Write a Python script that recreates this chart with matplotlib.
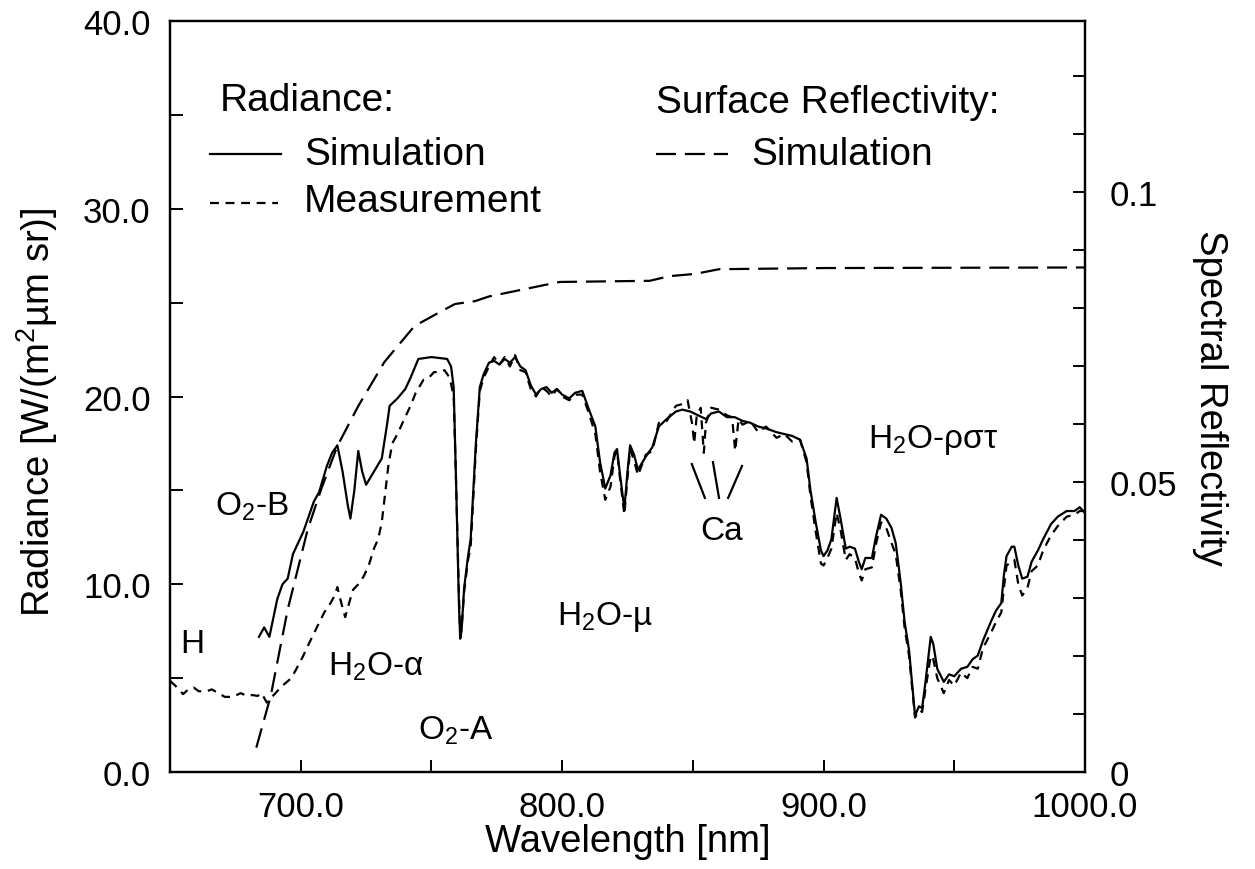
import numpy as np
import matplotlib
matplotlib.use("Agg")
import matplotlib.pyplot as plt
from matplotlib.ticker import MultipleLocator, FixedLocator

plt.rcParams['font.family'] = ['Liberation Sans', 'DejaVu Sans']
plt.rcParams['mathtext.fontset'] = 'custom'
plt.rcParams['mathtext.rm'] = 'Liberation Sans'

# simulated radiance
sim_wl = [684, 686, 688, 691, 693, 695, 697, 699, 701, 703, 705, 707, 710, 712, 714, 716,
          718, 719, 720.5, 722, 723.5, 725, 728, 731, 733, 734, 737, 740, 742, 745, 750, 756,
          757.5, 758.5, 759.5, 760.5, 761, 761.5, 762.5, 764, 765, 767, 768.5, 770, 772, 774,
          776, 778, 780, 782, 784, 786, 788, 790, 792, 794, 796, 798, 800, 802.7, 805, 807.7,
          810, 812.7, 814.5, 816.5, 818.5, 820, 821, 822, 823.8, 825, 826, 827.5, 829, 832,
          834.5, 837, 840, 843.5, 846, 849, 852, 855, 857, 860, 863, 866, 869, 872, 875, 878,
          882, 885, 888, 891, 893.5, 895, 897, 899, 900, 901.5, 903, 905, 906.5, 908.5, 910,
          912, 913.5, 914.6, 916, 918.5, 920, 922, 924, 926, 927.6, 929.5, 931, 932.7, 934,
          935, 936.5, 937.7, 939, 941, 942, 943.5, 946, 948, 950, 952.6, 955, 957, 959, 961,
          964, 966, 968, 969, 970, 972, 973, 974.5, 976, 978, 979.6, 982, 984, 987, 989.6,
          993, 996, 998, 1000]
sim_rad = [7.2, 7.7, 7.2, 9.2, 10.0, 10.3, 11.6, 12.2, 12.8, 13.6, 14.4, 14.9, 16.3, 17.0,
           17.4, 16.0, 14.2, 13.5, 15.0, 17.1, 16.0, 15.3, 16.0, 16.7, 18.5, 19.5, 19.9, 20.4,
           21.0, 22.0, 22.1, 22.0, 21.6, 20.5, 15.0, 9.0, 7.1, 7.5, 9.8, 11.5, 12.4, 17.5, 20.5,
           21.2, 21.8, 21.9, 21.7, 22.0, 21.8, 22.1, 21.6, 21.4, 20.6, 20.1, 20.4, 20.5, 20.2,
           20.4, 20.1, 19.9, 20.2, 20.3, 19.4, 18.4, 16.5, 15.1, 15.8, 17.0, 17.2, 16.0, 14.0,
           16.0, 17.4, 16.9, 16.1, 16.8, 17.3, 18.4, 18.8, 19.2, 19.3, 19.2, 19.0, 18.8, 19.1,
           19.2, 18.9, 18.9, 18.7, 18.6, 18.4, 18.3, 18.1, 18.0, 17.9, 17.7, 16.7, 15.0, 13.3,
           11.8, 11.5, 11.8, 12.4, 14.6, 13.5, 11.9, 12.0, 11.9, 11.2, 10.8, 11.4, 11.4, 12.5,
           13.7, 13.5, 13.0, 12.2, 10.1, 8.0, 6.5, 4.5, 3.0, 3.5, 3.4, 4.8, 7.2, 6.8, 5.5, 4.8,
           5.2, 5.1, 5.5, 5.6, 6.0, 6.2, 7.0, 8.0, 8.6, 9.0, 10.5, 11.5, 12.0, 12.0, 11.0, 10.3,
           10.4, 11.2, 11.8, 12.4, 13.2, 13.6, 13.9, 13.9, 14.1, 13.8]

# measured radiance
meas_wl = [650, 652, 655, 657, 659, 661, 664, 666, 669, 671, 674, 677, 679.5, 681.5, 683.5,
           685, 687, 689, 691, 693, 696, 698, 701, 703, 706.5, 709, 711, 713, 714, 715.5, 717,
           718.5, 720, 722, 724, 726, 728, 729.6, 731, 732, 733.5, 735, 737, 739.6, 742, 744,
           747, 749, 751, 753, 755, 757, 758.5, 759.5, 760.5, 761, 761.5, 762.5, 764, 765, 767,
           768.5, 770, 772, 774, 776, 778, 780, 782, 784, 786, 788, 790, 792, 794, 796, 798,
           800, 802.7, 805, 807.7, 810, 812.7, 814.5, 816.5, 818.5, 820, 821, 822, 823.8, 825,
           826, 827.5, 829, 832, 834.5, 837, 840, 843.5, 846, 848, 849.8, 850.5, 851.5, 853,
           854.2, 855, 857, 860, 863, 865, 866.2, 867.5, 869, 872, 875, 878, 882, 885, 888,
           891, 893.5, 895, 897, 899, 900, 901.5, 903, 905, 906.5, 908.5, 910, 912, 913.5,
           914.6, 916, 918.5, 920, 922, 924, 926, 927.6, 929.5, 931, 932.7, 934, 935, 936.5,
           937.7, 939, 941, 942, 943.5, 946, 948, 950, 952.6, 955, 957, 959, 961, 964, 966,
           968, 969, 970, 972, 973, 974.5, 976, 978, 979.6, 982, 984, 987, 989.6, 993, 996,
           998, 1000]
meas_rad = [4.85, 4.6, 4.15, 4.4, 4.5, 4.3, 4.3, 4.4, 4.15, 4.0, 4.0, 4.2, 4.05, 4.1, 4.05,
            4.2, 3.7, 4.0, 4.3, 4.6, 4.95, 5.4, 6.2, 6.8, 7.8, 8.5, 8.9, 9.4, 9.85, 9.0, 8.25,
            9.0, 9.7, 10.0, 10.4, 11.0, 11.9, 12.4, 13.3, 14.5, 16.3, 17.5, 18.0, 18.8, 19.5,
            20.2, 20.9, 21.0, 21.3, 21.3, 21.4, 21.0, 20.0, 15.0, 9.5, 7.3, 7.6, 9.6, 11.3,
            12.0, 17.2, 20.3, 21.0, 21.6, 22.1, 21.7, 22.1, 21.6, 22.2, 21.4, 21.3, 20.4, 20.0,
            20.5, 20.3, 20.0, 20.4, 20.0, 19.8, 20.1, 20.1, 19.2, 18.0, 16.0, 14.5, 15.2, 16.8,
            17.1, 15.8, 13.7, 15.7, 17.2, 16.6, 15.8, 16.9, 17.1, 18.6, 18.7, 19.5, 19.6, 19.8,
            18.5, 17.5, 19.0, 19.4, 17.0, 18.6, 19.4, 19.3, 19.0, 18.9, 17.1, 18.8, 18.5, 18.7,
            18.1, 18.4, 17.8, 18.0, 17.6, 17.7, 16.5, 14.7, 12.8, 11.1, 11.0, 11.4, 11.9, 13.8,
            12.9, 11.3, 11.6, 11.4, 10.6, 10.2, 10.8, 10.9, 12.1, 13.3, 13.0, 12.2, 11.6, 9.7,
            7.7, 6.2, 4.3, 2.9, 3.3, 3.2, 4.4, 6.2, 6.0, 5.0, 4.2, 4.9, 4.6, 5.3, 5.0, 5.6, 5.5,
            6.6, 7.4, 8.0, 8.5, 9.8, 11.0, 11.2, 11.3, 10.0, 9.4, 9.8, 10.7, 11.0, 11.8, 12.6,
            13.1, 13.6, 13.7, 13.9, 13.9]

# simulated surface reflectivity (right axis)
refl_wl = [683, 688.5, 695, 702.7, 708, 714, 722, 732, 743.5, 754, 759, 766.7, 772, 786,
           799, 833.5, 841, 851, 860, 900, 1000]
refl_val = [0.0042, 0.0131, 0.028, 0.0419, 0.049, 0.0562, 0.0631, 0.0707, 0.0769, 0.0795,
            0.0807, 0.0812, 0.0820, 0.0833, 0.0845, 0.0847, 0.0855, 0.0859, 0.0867, 0.0869,
            0.0870]

# absorption band labels: (text, wavelength, radiance)
bands = [("H", 653.8, 6.4),
         ("O$_\\mathregular{2}$-B", 667.3, 13.7),
         ("H$_\\mathregular{2}$O-α", 710.4, 5.2),
         ("O$_\\mathregular{2}$-A", 745.0, 1.8),
         ("H$_\\mathregular{2}$O-µ", 798.0, 7.9),
         ("Ca", 853.0, 12.4),
         ("H$_\\mathregular{2}$O-ρστ", 917.0, 17.3)]

# pointer strokes to the three Ca lines
ca_x = [[849.6, 854.6], [857.7, 860.0], [868.8, 863.5]]
ca_y = [[16.4, 14.6], [16.5, 14.6], [16.3, 14.6]]

fig = plt.figure(figsize=(12.55, 8.7), dpi=100)
ax = fig.add_axes([0.1355, 0.1115, 0.729, 0.8632])
ax2 = ax.twinx()

lw = 1.6
ax.plot(sim_wl, sim_rad, color='black', lw=lw, ls='-')
ax.plot(meas_wl, meas_rad, color='black', lw=lw, ls=(0, (4, 3)))
ax2.plot(refl_wl, refl_val, color='black', lw=lw, ls=(0, (9, 4)))

for x, y in zip(ca_x, ca_y):
    ax.plot(x, y, color='black', lw=1.6)

for txt, x, y in bands:
    ax.text(x, y, txt, fontsize=24, ha='left', va='baseline')

ax.set_xlim(650, 1000)
ax.set_ylim(0, 40)
ax2.set_ylim(0, 0.1295)

ax.xaxis.set_major_locator(FixedLocator([700, 800, 900, 1000]))
ax.xaxis.set_minor_locator(FixedLocator([750, 850, 950]))
ax.xaxis.set_major_formatter(matplotlib.ticker.FormatStrFormatter('%.1f'))
ax.yaxis.set_major_locator(MultipleLocator(10))
ax.yaxis.set_minor_locator(MultipleLocator(5))
ax.yaxis.set_major_formatter(matplotlib.ticker.FormatStrFormatter('%.1f'))
ax2.yaxis.set_major_locator(FixedLocator([0, 0.05, 0.1]))
ax2.yaxis.set_major_formatter(matplotlib.ticker.FixedFormatter(['0', '0.05', '0.1']))
ax2.yaxis.set_minor_locator(MultipleLocator(0.01))

for a in (ax, ax2):
    for s in a.spines.values():
        s.set_linewidth(1.6)
ax.tick_params(which='both', direction='in', length=9, width=1.4, labelsize=25)
ax.tick_params(axis='x', which='both', top=False, pad=13)
ax.tick_params(axis='y', which='both', right=False, pad=14)
ax2.tick_params(which='both', direction='in', length=9, width=1.4, labelsize=25, pad=18)

ax.set_xlabel("Wavelength [nm]", fontsize=27.5, labelpad=0)
ax.set_ylabel("Radiance [W/(m$^\\mathregular{2}$µm sr)]", fontsize=27.5)
ax.yaxis.set_label_coords(-0.12, 0.48)
ax2.set_ylabel("Spectral Reflectivity", fontsize=27.5, rotation=-90, labelpad=36)

# key
ax.text(669.2, 35.8, "Radiance:", fontsize=28, va='center')
ax.text(701.2, 32.9, "Simulation", fontsize=28, va='center')
ax.text(701.2, 30.4, "Measurement", fontsize=28, va='center')
ax.plot([665.4, 692.3], [32.9, 32.9], color='black', lw=lw, ls='-')
ax.plot([665.4, 691.2], [30.3, 30.3], color='black', lw=lw, ls=(0, (4, 3)))
ax.text(835.8, 35.7, "Surface Reflectivity:", fontsize=28, va='center')
ax.text(872.3, 32.9, "Simulation", fontsize=28, va='center')
ax.plot([835.8, 863.5], [32.9, 32.9], color='black', lw=lw, ls=(0, (9, 4)))

fig.savefig("out.png", dpi=100)
